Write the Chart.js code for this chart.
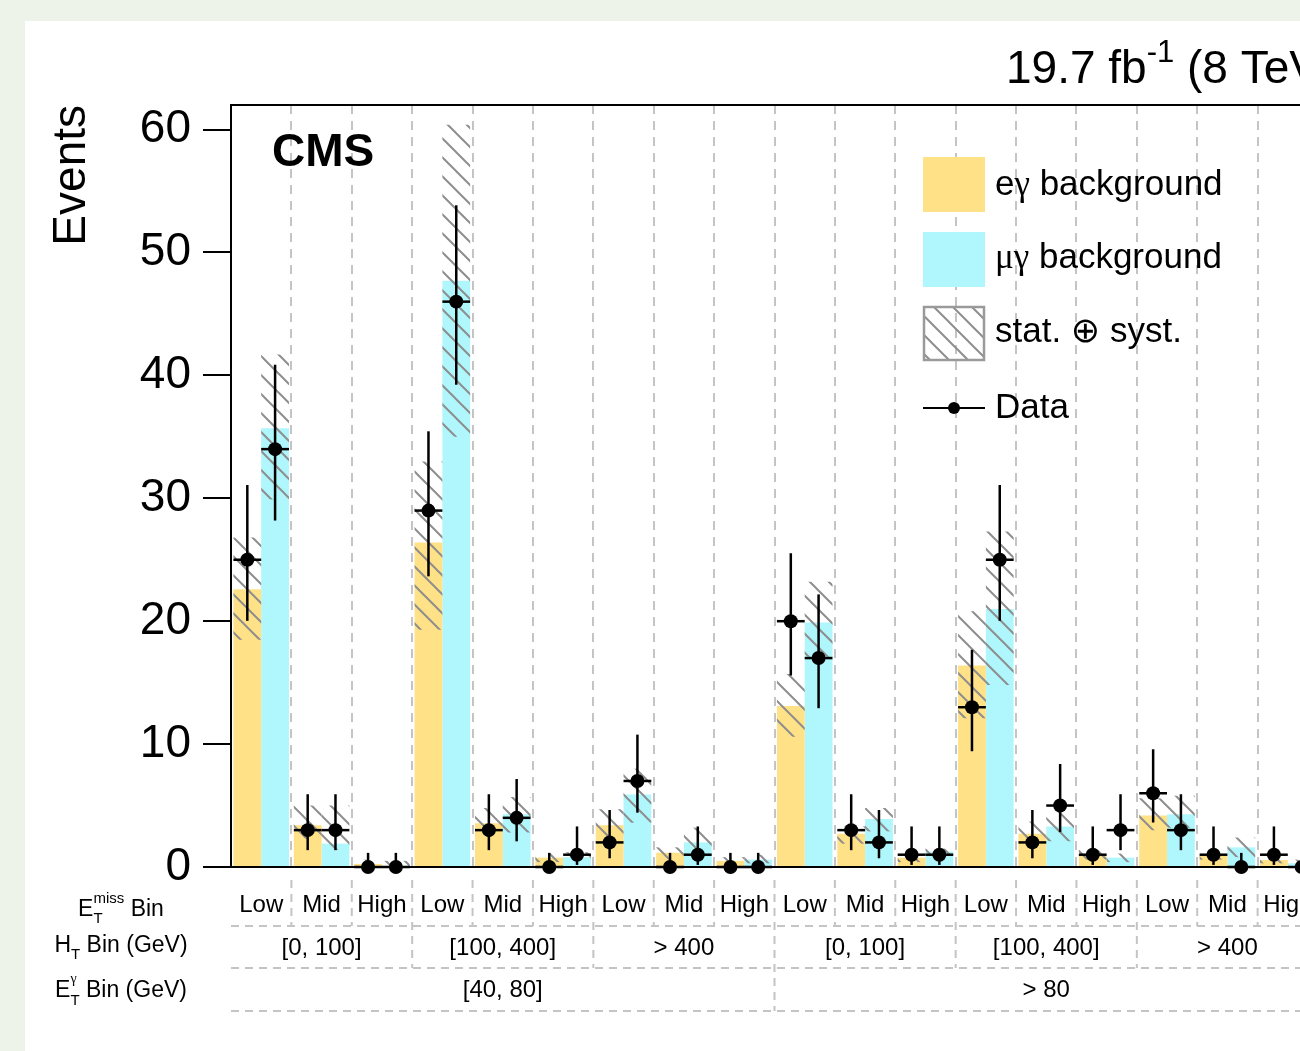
<!DOCTYPE html>
<html>
<head>
<meta charset="utf-8">
<script src="https://cdn.jsdelivr.net/npm/chart.js@4.4.1/dist/chart.umd.min.js"></script>
<style>
  html, body { margin: 0; padding: 0; overflow: hidden; width: 1300px; height: 1051px; background: #edf3e8; }
  #panel { position: absolute; left: 25px; top: 21px; width: 1400px; height: 1100px; background: #fff; }
  #c { position: absolute; left: 0; top: 0; }
</style>
</head>
<body>
<div id="panel"></div>
<canvas id="c" width="1340" height="1051"></canvas>
<script>
// ─── DATA ────────────────────────────────────────────────────────────────
const metBins = ['Low', 'Mid', 'High', 'Low', 'Mid', 'High', 'Low', 'Mid', 'High',
                 'Low', 'Mid', 'High', 'Low', 'Mid', 'High', 'Low', 'Mid', 'High'];
const htBins = ['[0, 100]', '[100, 400]', '> 400', '[0, 100]', '[100, 400]', '> 400'];
const etgBins = ['[40, 80]', '> 80'];

// predicted backgrounds
const egBkg = [22.6, 3.4, 0.25, 26.4, 3.55, 0.76, 3.4, 1.16, 0.5, 13.1, 2.7, 0.76, 16.4, 2.7, 0.98, 4.2, 0.9, 0.57];
const mgBkg = [35.7, 1.9, 0.1, 47.7, 4.3, 0.8, 5.9, 2.0, 0.6, 19.9, 3.9, 1.25, 21.0, 3.3, 0.76, 4.3, 1.6, 0.3];

// stat (+) syst band, lower and upper edge
const egUncLo = [18.5, 2.3, 0.0, 19.3, 2.6, 0.4, 2.0, 0.6, 0.3, 10.6, 1.9, 0.4, 12.1, 2.0, 0.6, 3.0, 0.6, 0.3];
const egUncHi = [26.8, 5.0, 0.6, 33.0, 4.8, 1.1, 4.7, 1.6, 0.8, 15.7, 3.3, 1.1, 20.8, 3.7, 1.4, 5.6, 1.2, 0.9];
const mgUncLo = [29.9, 1.4, 0.0, 35.0, 2.8, 0.5, 3.6, 1.1, 0.3, 17.1, 2.9, 1.0, 14.8, 2.1, 0.4, 3.2, 0.8, 0.1];
const mgUncHi = [41.7, 5.0, 0.5, 60.4, 5.7, 1.2, 8.0, 3.2, 1.0, 23.2, 4.8, 1.5, 27.3, 4.5, 1.1, 5.8, 2.4, 0.6];

// observed events and their error bars
const egData = [25, 3, 0, 29, 3, 0, 2, 0, 0, 20, 3, 1, 13, 2, 1, 6, 1, 1];
const mgData = [34, 3, 0, 46, 4, 1, 7, 1, 0, 17, 2, 1, 25, 5, 3, 3, 0, 0];
const egErrLo = [4.97, 1.63, 0, 5.35, 1.63, 0, 1.29, 0, 0, 4.42, 1.63, 0.83, 3.58, 1.29, 0.83, 2.38, 0.83, 0.83];
const egErrHi = [6.08, 2.92, 1.15, 6.45, 2.92, 1.15, 2.64, 1.15, 1.15, 5.53, 2.92, 2.30, 4.67, 2.64, 2.30, 3.58, 2.30, 2.30];
const mgErrLo = [5.81, 1.63, 0, 6.76, 1.91, 0.83, 2.58, 0.83, 0, 4.08, 1.29, 0.83, 4.97, 2.16, 1.63, 1.63, 0, 0];
const mgErrHi = [6.87, 2.92, 1.15, 7.84, 3.16, 2.30, 3.77, 2.30, 1.15, 5.18, 2.64, 2.30, 6.08, 3.38, 2.92, 2.92, 1.15, 1.15];

const yMin = 0, yMax = 62, yStep = 10;

// ─── STYLE ───────────────────────────────────────────────────────────────
const F = '"Liberation Sans", Arial, Helvetica, "DejaVu Sans", sans-serif';
const G = '"Liberation Serif", "DejaVu Serif", serif';
const egColor = '#ffe187';
const mgColor = '#aff7fc';
const catPct = 0.92;
const half = catPct / 4;   // sub-bar centre offset from bin centre (bin units)
const perHt = metBins.length / htBins.length;
const perEtg = metBins.length / etgBins.length;

function makeHatch() {
  const s = 19, c = document.createElement('canvas');
  c.width = s; c.height = s;
  const g = c.getContext('2d');
  g.strokeStyle = '#8e8e8e'; g.lineWidth = 2;
  g.beginPath();
  g.moveTo(-2, -2); g.lineTo(s + 2, s + 2);
  g.moveTo(-2, s - 2); g.lineTo(2, s + 2);
  g.moveTo(s - 2, -2); g.lineTo(s + 2, 2);
  g.stroke();
  return g.createPattern(c, 'repeat');
}
const hatch = makeHatch();

function richText(ctx, parts, x, base, align) {
  const widths = parts.map(p => { ctx.font = `${p.b ? 'bold ' : ''}${p.s}px ${p.f || F}`; return ctx.measureText(p.t).width; });
  let cur = 0, hold = 0;
  const xs = [];
  parts.forEach((p, i) => {
    xs.push(cur);
    const end = cur + widths[i];
    if (p.keep) hold = Math.max(hold, end);
    else { cur = Math.max(end, hold); hold = 0; }
  });
  const start = align === 'center' ? x - cur / 2 : x;
  ctx.textAlign = 'left';
  ctx.textBaseline = 'alphabetic';
  parts.forEach((p, i) => {
    ctx.font = `${p.b ? 'bold ' : ''}${p.s}px ${p.f || F}`;
    ctx.fillText(p.t, start + xs[i], base + (p.dy || 0));
  });
}

function seg(ctx, x1, y1, x2, y2) {
  ctx.beginPath(); ctx.moveTo(x1, y1); ctx.lineTo(x2, y2); ctx.stroke();
}

// ─── PLUGIN: error bars, frame, labels, legend ───────────────────────────
const decor = {
  id: 'decor',
  afterDatasetsDraw(chart) {
    const { ctx, scales: { x, y } } = chart;
    ctx.save();
    ctx.strokeStyle = '#000'; ctx.lineWidth = 2.5;
    [[egData, egErrLo, egErrHi, -half], [mgData, mgErrLo, mgErrHi, half]].forEach(([d, lo, hi, off]) => {
      d.forEach((v, i) => {
        const c = i + 0.5 + off;
        const px = x.getPixelForValue(c);
        const py = y.getPixelForValue(v);
        seg(ctx, x.getPixelForValue(c - half), py, x.getPixelForValue(c + half), py);
        seg(ctx, px, y.getPixelForValue(v - lo[i]), px, y.getPixelForValue(v + hi[i]));
      });
    });
    ctx.restore();
  },
  afterDraw(chart) {
    const { ctx, chartArea: a, scales: { x } } = chart;
    ctx.save();
    // frame
    ctx.strokeStyle = '#000'; ctx.lineWidth = 2;
    ctx.strokeRect(a.left, a.top, a.right - a.left, a.bottom - a.top);

    // bin table below the axis
    ctx.strokeStyle = '#c4c4c4'; ctx.lineWidth = 2; ctx.setLineDash([8, 6]);
    const rows = [926, 968, 1011];
    rows.forEach(r => seg(ctx, a.left, r, a.right, r));
    for (let i = 1; i < metBins.length; i++) {
      const px = x.getPixelForValue(i);
      const end = i % perEtg === 0 ? rows[2] : i % perHt === 0 ? rows[1] : rows[0];
      seg(ctx, px, 880, px, end);
    }
    ctx.setLineDash([]);
    ctx.fillStyle = '#000';
    ctx.textAlign = 'center'; ctx.textBaseline = 'alphabetic';
    ctx.font = `24px ${F}`;
    metBins.forEach((t, i) => ctx.fillText(t, x.getPixelForValue(i + 0.5), 912));
    htBins.forEach((t, j) => ctx.fillText(t, x.getPixelForValue(j * perHt + perHt / 2), 955));
    etgBins.forEach((t, k) => ctx.fillText(t, x.getPixelForValue(k * perEtg + perEtg / 2), 997));

    // row titles
    richText(ctx, [{ t: 'E', s: 23 }, { t: 'T', s: 15, dy: 7, keep: true }, { t: 'miss', s: 15, dy: -13 }, { t: ' Bin', s: 23 }], 121, 916, 'center');
    richText(ctx, [{ t: 'H', s: 23 }, { t: 'T', s: 15, dy: 7 }, { t: ' Bin (GeV)', s: 23 }], 121, 952, 'center');
    richText(ctx, [{ t: 'E', s: 23 }, { t: 'T', s: 15, dy: 8, keep: true }, { t: 'γ', s: 14, f: G, dy: -14 }, { t: ' Bin (GeV)', s: 23 }], 121, 997, 'center');

    // y title
    ctx.save();
    ctx.translate(85, a.top);
    ctx.rotate(-Math.PI / 2);
    ctx.textAlign = 'right'; ctx.font = `46px ${F}`;
    ctx.fillText('Events', 0, 0);
    ctx.restore();

    // CMS label and lumi
    ctx.textAlign = 'left';
    ctx.font = `bold 46px ${F}`;
    ctx.fillText('CMS', a.left + 41, 166);
    richText(ctx, [{ t: '19.7 fb', s: 46 }, { t: '-1', s: 31, dy: -21 }, { t: ' (8 TeV)', s: 46 }], 1006, 83, 'left');

    // legend
    const lx = 923, lw = 62, lh = 55;
    ctx.fillStyle = egColor; ctx.fillRect(lx, 157, lw, lh);
    ctx.fillStyle = mgColor; ctx.fillRect(lx, 232, lw, lh);
    ctx.fillStyle = hatch; ctx.fillRect(lx, 306, lw, lh);
    ctx.strokeStyle = '#9a9a9a'; ctx.lineWidth = 2.5; ctx.strokeRect(lx + 1, 307, lw - 2, lh - 2);
    ctx.strokeStyle = '#000'; ctx.lineWidth = 2;
    seg(ctx, lx, 408, lx + lw, 408);
    ctx.fillStyle = '#000';
    ctx.beginPath(); ctx.arc(lx + lw / 2, 408, 6, 0, Math.PI * 2); ctx.fill();
    const tx = 995;
    richText(ctx, [{ t: 'e', s: 35 }, { t: 'γ', s: 35, f: G }, { t: ' background', s: 35 }], tx, 195, 'left');
    richText(ctx, [{ t: 'μγ', s: 35, f: G }, { t: ' background', s: 35 }], tx, 268, 'left');
    richText(ctx, [{ t: 'stat. ⊕ syst.', s: 35 }], tx, 342, 'left');
    richText(ctx, [{ t: 'Data', s: 35 }], tx, 418, 'left');
    ctx.restore();
  }
};

// ─── CHART ───────────────────────────────────────────────────────────────
const pointOpts = { type: 'line', showLine: false, pointRadius: 7, pointHoverRadius: 7,
  pointBackgroundColor: '#000', pointBorderWidth: 0, order: 0, clip: false };

new Chart(document.getElementById('c'), {
  type: 'bar',
  data: {
    datasets: [
      { ...pointOpts, label: 'Data eγ', data: egData.map((v, i) => ({ x: i + 0.5 - half, y: v })) },
      { ...pointOpts, label: 'Data μγ', data: mgData.map((v, i) => ({ x: i + 0.5 + half, y: v })) },
      { label: 'eγ stat. ⊕ syst.', stack: 'eg', order: 1, backgroundColor: hatch,
        data: egUncLo.map((lo, i) => ({ x: i + 0.5, y: [lo, egUncHi[i]] })) },
      { label: 'μγ stat. ⊕ syst.', stack: 'mg', order: 1, backgroundColor: hatch,
        data: mgUncLo.map((lo, i) => ({ x: i + 0.5, y: [lo, mgUncHi[i]] })) },
      { label: 'eγ background', stack: 'eg', order: 2, backgroundColor: egColor,
        data: egBkg.map((v, i) => ({ x: i + 0.5, y: v })) },
      { label: 'μγ background', stack: 'mg', order: 2, backgroundColor: mgColor,
        data: mgBkg.map((v, i) => ({ x: i + 0.5, y: v })) }
    ]
  },
  options: {
    responsive: false,
    animation: false,
    layout: { padding: { top: 105, right: 22, left: 0, bottom: 0 } },
    datasets: { bar: { categoryPercentage: catPct, barPercentage: 1, borderWidth: 0 } },
    plugins: { legend: { display: false }, tooltip: { enabled: false } },
    scales: {
      x: {
        type: 'linear', min: 0, max: metBins.length, offset: false,
        afterFit(s) { s.height = 1051 - 867; },
        ticks: { display: false, stepSize: 1 },
        grid: { offset: false, drawTicks: false, lineWidth: 2,
          color: c => (c.tick && c.tick.value > 0 && c.tick.value < metBins.length) ? '#c4c4c4' : 'rgba(0,0,0,0)' },
        border: { display: false, dash: [9, 7] }
      },
      y: {
        min: yMin, max: yMax, stacked: false,
        afterFit(s) { s.width = 231; },
        ticks: { stepSize: yStep, includeBounds: false, color: '#000', padding: 12, font: { family: F, size: 46 } },
        grid: { drawOnChartArea: false, tickLength: 28, color: '#000', lineWidth: 2 },
        border: { display: true, color: '#000', width: 2 }
      }
    }
  },
  plugins: [decor]
});
</script>
</body>
</html>
